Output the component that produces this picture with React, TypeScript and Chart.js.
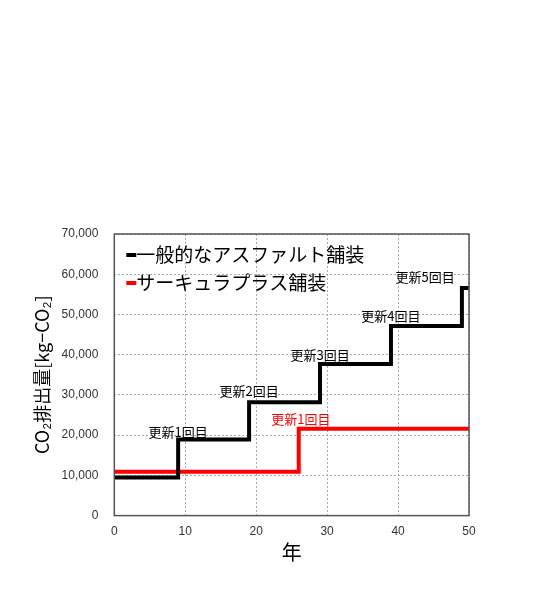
import React, { useEffect, useRef } from 'react';
import { Chart, registerables } from 'chart.js';

Chart.register(...registerables);

// 年 (x) と CO2排出量 (y)
const normalYears = [0, 9, 19, 29, 39, 49, 50];
const normalValues = [9500, 18900, 28200, 37700, 47100, 56600, 56600];
const circularYears = [0, 26, 50];
const circularValues = [10900, 21600, 21600];

const seriesNames = ['一般的なアスファルト舗装', 'サーキュラプラス舗装'];

const noteTexts = ['更新1回目', '更新2回目', '更新3回目', '更新4回目', '更新5回目', '更新1回目'];
const noteYears = [9, 19, 29, 39, 43.8, 26.3];
const noteValues = [20800, 31000, 40000, 49600, 59300, 24100];
const noteColors = ['#000', '#000', '#000', '#000', '#000', '#ff0000'];

const JP = "'Noto Sans CJK JP', 'Liberation Sans', sans-serif";
const NUM = "'Liberation Sans', Arial, sans-serif";

const notesPlugin = {
    id: 'notes',
    afterDatasetsDraw(chart: any) {
        const { ctx, scales } = chart;
        ctx.save();
        ctx.font = `13px ${JP}`;
        ctx.textAlign = 'center';
        ctx.textBaseline = 'middle';
        noteTexts.forEach((t, i) => {
            ctx.fillStyle = noteColors[i];
            ctx.fillText(t, scales.x.getPixelForValue(noteYears[i]), scales.y.getPixelForValue(noteValues[i]));
        });
        ctx.restore();
    },
};

// legend drawn inside the plot, top-left
const innerLegendPlugin = {
    id: 'innerLegend',
    afterDraw(chart: any) {
        const { ctx, chartArea: a } = chart;
        ctx.save();
        ctx.font = `19px ${JP}`;
        ctx.textBaseline = 'middle';
        chart.data.datasets.forEach((ds: any, i: number) => {
            const y = a.top + 21 + i * 28;
            ctx.fillStyle = ds.borderColor;
            ctx.fillRect(a.left + 12, y - 2, 10, 4);
            ctx.fillStyle = '#000';
            ctx.fillText(ds.label, a.left + 22, y);
        });
        ctx.restore();
    },
};

const framePlugin = {
    id: 'frame',
    afterDraw(chart: any) {
        const { ctx, chartArea: a } = chart;
        ctx.save();
        ctx.strokeStyle = '#555';
        ctx.lineWidth = 1.5;
        ctx.strokeRect(a.left, a.top, a.right - a.left, a.bottom - a.top);
        ctx.restore();
    },
};

const App = () => {
    const chartRef = useRef<HTMLCanvasElement>(null);
    const chartInstance = useRef<Chart | null>(null);

    useEffect(() => {
        if (!chartRef.current) return;
        const ctx = chartRef.current.getContext('2d');
        if (!ctx) return;
        if (chartInstance.current) chartInstance.current.destroy();

        chartInstance.current = new Chart(ctx, {
            type: 'line',
            data: {
                datasets: [
                    {
                        label: seriesNames[0],
                        data: normalYears.map((x, i) => ({ x, y: normalValues[i] })),
                        borderColor: '#000',
                        backgroundColor: '#000',
                        borderWidth: 4,
                        pointRadius: 0,
                        stepped: 'before',
                    },
                    {
                        label: seriesNames[1],
                        data: circularYears.map((x, i) => ({ x, y: circularValues[i] })),
                        borderColor: '#ff0000',
                        backgroundColor: '#ff0000',
                        borderWidth: 4,
                        pointRadius: 0,
                        stepped: 'before',
                    },
                ],
            },
            options: {
                animation: false,
                responsive: true,
                maintainAspectRatio: false,
                layout: { padding: { top: 234, left: 16, right: 83, bottom: 29 } },
                plugins: {
                    tooltip: { enabled: false },
                    legend: { display: false },
                },
                scales: {
                    x: {
                        type: 'linear',
                        min: 0,
                        max: 50,
                        ticks: { stepSize: 10, color: '#333', font: { size: 12, family: NUM }, padding: 9 },
                        grid: { color: '#aaa', drawTicks: false },
                        border: { display: false, dash: [2, 2] },
                        title: { display: true, text: '年', color: '#000', font: { size: 20, family: JP }, padding: { top: -8, bottom: 0 } },
                    },
                    y: {
                        min: 0,
                        max: 70000,
                        ticks: {
                            stepSize: 10000,
                            color: '#333',
                            font: { size: 12, family: NUM },
                            padding: 16,
                            callback: (v: any) => Number(v).toLocaleString('en-US'),
                        },
                        grid: { color: '#aaa', drawTicks: false },
                        border: { display: false, dash: [2, 2] },
                        title: { display: true, text: 'CO₂排出量[kg−CO₂]', color: '#000', font: { size: 18, family: JP }, padding: { top: 15, bottom: -7 } },
                    },
                },
            },
            plugins: [notesPlugin, innerLegendPlugin, framePlugin],
        });

        return () => {
            if (chartInstance.current) {
                chartInstance.current.destroy();
                chartInstance.current = null;
            }
        };
    }, []);

    return (
        <div style={{ position: 'fixed', left: 0, top: 0, width: 552, height: 593, background: '#fff' }}>
            <canvas ref={chartRef} />
        </div>
    );
};

export default App;
